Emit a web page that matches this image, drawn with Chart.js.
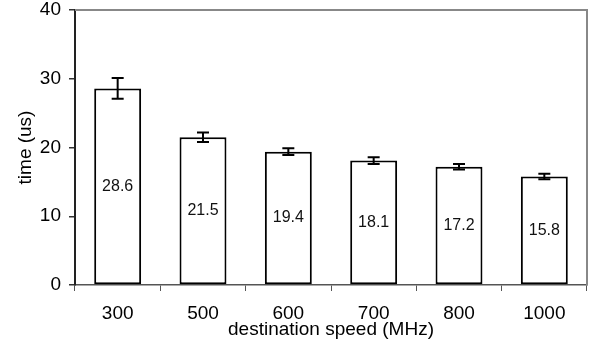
<!DOCTYPE html>
<html>
<head>
<meta charset="utf-8">
<script src="https://cdn.jsdelivr.net/npm/chart.js@4/dist/chart.umd.min.js"></script>
<style>
html,body{margin:0;padding:0;background:#fff;}
#wrap{width:592px;height:349px;position:relative;}
</style>
</head>
<body>
<div id="wrap"><canvas id="c" width="592" height="349"></canvas></div>
<script>
const categories = ["300", "500", "600", "700", "800", "1000"];
const times = [28.6, 21.5, 19.4, 18.1, 17.2, 15.8];
const errors = [1.5, 0.7, 0.5, 0.5, 0.4, 0.4];
const yTicks = [0, 10, 20, 30, 40];

const FONT = "'Liberation Sans', Arial, sans-serif";

const extras = {
  id: 'extras',
  afterDatasetsDraw(chart) {
    const ctx = chart.ctx;
    const y = chart.scales.y;
    const meta = chart.getDatasetMeta(0);
    const area = chart.chartArea;
    ctx.save();
    // top & right frame
    ctx.strokeStyle = '#888';
    ctx.lineWidth = 2;
    ctx.beginPath();
    ctx.moveTo(area.left, area.top);
    ctx.lineTo(area.right, area.top);
    ctx.lineTo(area.right, area.bottom);
    ctx.stroke();
    // error bars and value labels
    ctx.strokeStyle = '#000';
    ctx.lineWidth = 2;
    ctx.fillStyle = '#111';
    ctx.font = '16px ' + FONT;
    ctx.textAlign = 'center';
    ctx.textBaseline = 'middle';
    meta.data.forEach((bar, i) => {
      const x = bar.x;
      const yHi = y.getPixelForValue(times[i] + errors[i]);
      const yLo = y.getPixelForValue(times[i] - errors[i]);
      const cap = 6;
      ctx.beginPath();
      ctx.moveTo(x, yHi); ctx.lineTo(x, yLo);
      ctx.moveTo(x - cap, yHi); ctx.lineTo(x + cap, yHi);
      ctx.moveTo(x - cap, yLo); ctx.lineTo(x + cap, yLo);
      ctx.stroke();
      const mid = (bar.y + bar.base) / 2;
      ctx.fillText(times[i].toFixed(1), x, mid);
    });
    ctx.restore();
  }
};

new Chart(document.getElementById('c'), {
  type: 'bar',
  data: {
    labels: categories,
    datasets: [{
      data: times,
      backgroundColor: '#fff',
      borderColor: '#000',
      borderWidth: 2,
      borderSkipped: false,
      categoryPercentage: 0.55,
      barPercentage: 1.0
    }]
  },
  options: {
    responsive: false,
    animation: false,
    devicePixelRatio: 1,
    layout: { padding: { top: 10, right: 5, left: 0, bottom: 0 } },
    plugins: { legend: { display: false }, tooltip: { enabled: false } },
    scales: {
      x: {
        grid: { display: true, drawOnChartArea: false, offset: true, tickLength: 6, color: '#555', lineWidth: 1 },
        border: { display: true, color: '#555', width: 1.5 },
        ticks: { color: '#000', font: { family: FONT, size: 19 }, padding: 11, maxRotation: 0 },
        title: { display: true, text: 'destination speed (MHz)', color: '#000', font: { family: FONT, size: 19 }, padding: { top: 0, bottom: 8 } },
        afterFit(s) { s.height = 64; s.paddingLeft = 0; s.paddingRight = 0; }
      },
      y: {
        min: 0, max: 40,
        afterBuildTicks(s) { s.ticks = yTicks.map(v => ({ value: v })); },
        grid: { display: true, drawOnChartArea: false, tickLength: 6, color: '#333', lineWidth: 1.5 },
        border: { display: true, color: '#222', width: 2 },
        ticks: { color: '#000', font: { family: FONT, size: 19 }, padding: 8 },
        title: { display: true, text: 'time (us)', color: '#000', font: { family: FONT, size: 19 }, padding: { top: 14, bottom: 0 } },
        afterFit(s) { s.width = 75; s.paddingTop = 0; s.paddingBottom = 0; }
      }
    }
  },
  plugins: [extras]
});
</script>
</body>
</html>
